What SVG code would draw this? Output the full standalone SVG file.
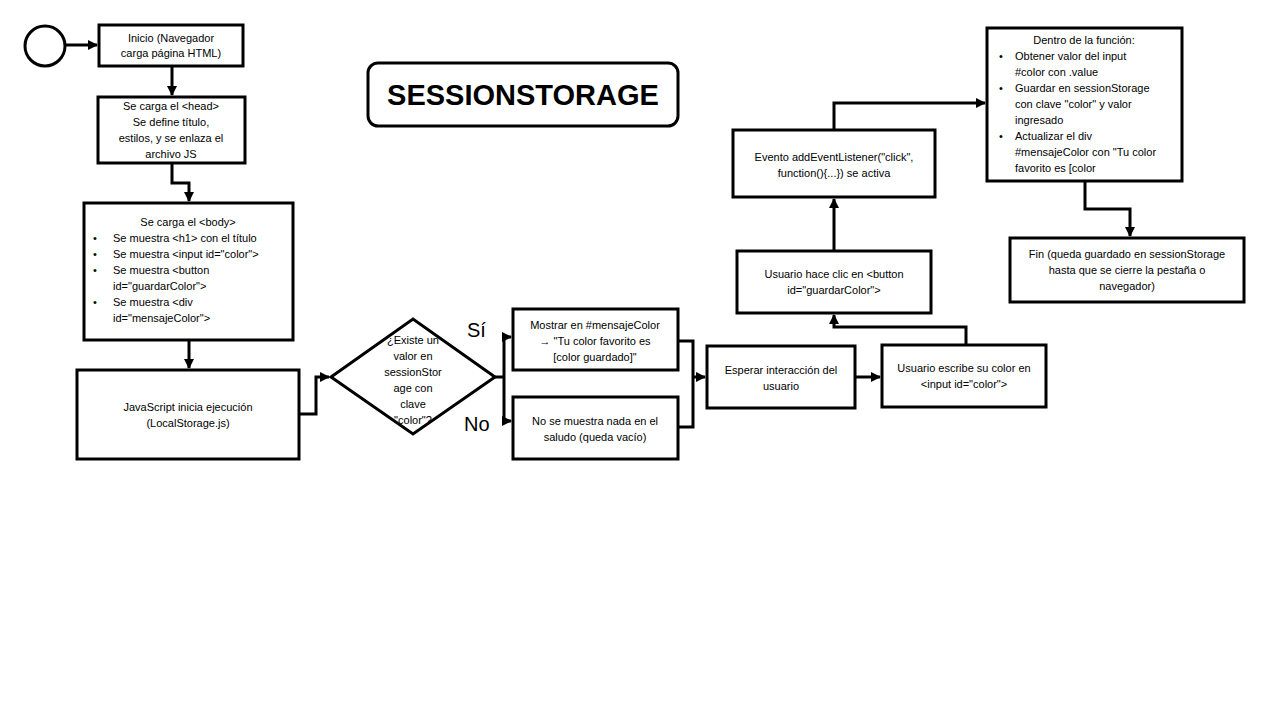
<svg xmlns="http://www.w3.org/2000/svg" width="1280" height="720" viewBox="0 0 1280 720">
<style>
.box{fill:#fff;stroke:#000;stroke-width:3}
.c{fill:none;stroke:#000;stroke-width:3}
text{font-family:"Liberation Sans",Arial,sans-serif;font-size:11px;fill:#000}
.m{text-anchor:middle}
.lbl{font-size:20px}
.title{font-size:29px;font-weight:bold;text-anchor:middle}
</style>
<defs>
<marker id="ah" viewBox="0 0 10 10" refX="9" refY="5" markerWidth="3.4" markerHeight="3.4" orient="auto" markerUnits="strokeWidth">
<path d="M0,0 L10,5 L0,10 Z" fill="#000"/>
</marker>
</defs>
<rect width="1280" height="720" fill="#fff"/>

<g id="title">
<rect x="368" y="63" width="310" height="63" rx="10" class="box"/>
<text x="523" y="105" class="title">SESSIONSTORAGE</text>
</g>

<g id="connectors">
<path class="c" d="M65,45 H97" marker-end="url(#ah)"/>
<path class="c" d="M172,66 V95" marker-end="url(#ah)"/>
<path class="c" d="M172,163 V183 H189 V201" marker-end="url(#ah)"/>
<path class="c" d="M189,340 V368" marker-end="url(#ah)"/>
<path class="c" d="M299,414 H316 V377 H329" marker-end="url(#ah)"/>
<path class="c" d="M495,377 H504"/>
<path class="c" d="M504,337 V421"/>
<path class="c" d="M504,337 H511" marker-end="url(#ah)"/>
<path class="c" d="M504,421 H511" marker-end="url(#ah)"/>
<path class="c" d="M678,341 H693 V427 H678"/>
<path class="c" d="M693,377 H705" marker-end="url(#ah)"/>
<path class="c" d="M855,377 H880" marker-end="url(#ah)"/>
<path class="c" d="M966,345 V327 H834 V315" marker-end="url(#ah)"/>
<path class="c" d="M834,251 V199" marker-end="url(#ah)"/>
<path class="c" d="M834,130 V103 H985" marker-end="url(#ah)"/>
<path class="c" d="M1085,181 V209 H1130 V236" marker-end="url(#ah)"/>
</g>

<g id="start">
<circle cx="45" cy="46" r="20" fill="#fff" stroke="#000" stroke-width="3"/>
</g>

<g id="n1">
<rect x="99" y="25" width="144" height="41" class="box"/>
<text x="171" y="42" class="m">Inicio (Navegador</text>
<text x="171" y="57" class="m">carga página HTML)</text>
</g>

<g id="n2">
<rect x="98" y="97" width="147" height="66" class="box"/>
<text x="171" y="110" class="m">Se carga el &lt;head&gt;</text>
<text x="171" y="126" class="m">Se define título,</text>
<text x="171" y="142" class="m">estilos, y se enlaza el</text>
<text x="171" y="158" class="m">archivo JS</text>
</g>

<g id="n3">
<rect x="84" y="203" width="209" height="137" class="box"/>
<text x="188" y="226" class="m">Se carga el &lt;body&gt;</text>
<text x="93" y="242">•</text><text x="113" y="242">Se muestra &lt;h1&gt; con el título</text>
<text x="93" y="258">•</text><text x="113" y="258">Se muestra &lt;input id="color"&gt;</text>
<text x="93" y="274">•</text><text x="113" y="274">Se muestra &lt;button</text>
<text x="113" y="290">id="guardarColor"&gt;</text>
<text x="93" y="306">•</text><text x="113" y="306">Se muestra &lt;div</text>
<text x="113" y="322">id="mensajeColor"&gt;</text>
</g>

<g id="n4">
<rect x="77" y="370" width="222" height="89" class="box"/>
<text x="188" y="411" class="m">JavaScript inicia ejecución</text>
<text x="188" y="427" class="m">(LocalStorage.js)</text>
</g>

<g id="decision">
<text x="413" y="344" class="m">¿Existe un</text>
<text x="413" y="360" class="m">valor en</text>
<text x="413" y="376" class="m">sessionStor</text>
<text x="413" y="392" class="m">age con</text>
<text x="413" y="408" class="m">clave</text>
<text x="413" y="424" class="m">"color"?</text>
<path d="M331,377 L413,319 L495,377 L413,434 Z" fill="none" stroke="#000" stroke-width="3"/>
<text x="467" y="337" class="lbl">Sí</text>
<text x="464" y="431" class="lbl">No</text>
</g>

<g id="si">
<rect x="513" y="309" width="165" height="61" class="box"/>
<text x="595" y="329" class="m">Mostrar en #mensajeColor</text>
<text x="595" y="345" class="m">→ "Tu color favorito es</text>
<text x="595" y="361" class="m">[color guardado]"</text>
</g>

<g id="no">
<rect x="513" y="397" width="165" height="62" class="box"/>
<text x="595" y="425" class="m">No se muestra nada en el</text>
<text x="595" y="441" class="m">saludo (queda vacío)</text>
</g>

<g id="esperar">
<rect x="707" y="346" width="148" height="62" class="box"/>
<text x="781" y="374" class="m">Esperar interacción del</text>
<text x="781" y="390" class="m">usuario</text>
</g>

<g id="escribe">
<rect x="882" y="345" width="164" height="62" class="box"/>
<text x="964" y="372" class="m">Usuario escribe su color en</text>
<text x="964" y="388" class="m">&lt;input id="color"&gt;</text>
</g>

<g id="clic">
<rect x="737" y="251" width="194" height="62" class="box"/>
<text x="834" y="278" class="m">Usuario hace clic en &lt;button</text>
<text x="834" y="294" class="m">id="guardarColor"&gt;</text>
</g>

<g id="evento">
<rect x="733" y="130" width="202" height="67" class="box"/>
<text x="834" y="161" class="m">Evento addEventListener("click",</text>
<text x="834" y="177" class="m">function(){...}) se activa</text>
</g>

<g id="dentro">
<rect x="987" y="28" width="195" height="153" class="box"/>
<text x="1084" y="44" class="m">Dentro de la función:</text>
<text x="999" y="60">•</text><text x="1015" y="60">Obtener valor del input</text>
<text x="1015" y="76">#color con .value</text>
<text x="999" y="92">•</text><text x="1015" y="92">Guardar en sessionStorage</text>
<text x="1015" y="108">con clave "color" y valor</text>
<text x="1015" y="124">ingresado</text>
<text x="999" y="140">•</text><text x="1015" y="140">Actualizar el div</text>
<text x="1015" y="156">#mensajeColor con "Tu color</text>
<text x="1015" y="172">favorito es [color</text>
</g>

<g id="fin">
<rect x="1010" y="238" width="234" height="64" class="box"/>
<text x="1127" y="258" class="m">Fin (queda guardado en sessionStorage</text>
<text x="1127" y="274" class="m">hasta que se cierre la pestaña o</text>
<text x="1127" y="290" class="m">navegador)</text>
</g>
</svg>
